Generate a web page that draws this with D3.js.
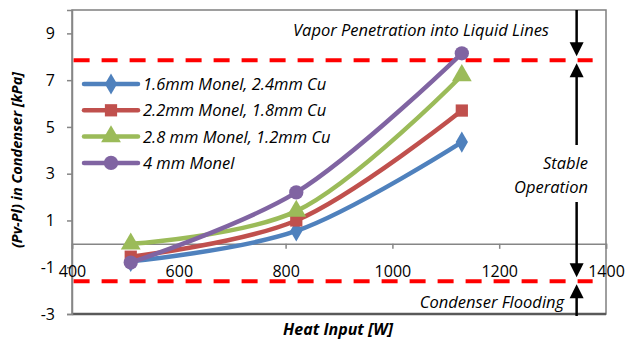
<!DOCTYPE html>
<html>
<head>
<meta charset="utf-8">
<script src="https://cdn.jsdelivr.net/npm/d3@7"></script>
<style>
  body { margin: 0; background: #fff; }
  text { font-family: "Open Sans", sans-serif; fill: #000; }
</style>
</head>
<body>
<svg id="chart" width="626" height="341"></svg>
<script>
// data
var heatInput = [510, 820, 1130];
var seriesNames = ["1.6mm Monel, 2.4mm Cu", "2.2mm Monel, 1.8mm Cu", "2.8 mm Monel, 1.2mm Cu", "4 mm Monel"];
var monel16 = [-0.75, 0.55, 4.35];
var monel22 = [-0.55, 1.0, 5.7];
var monel28 = [0.0, 1.4, 7.2];
var monel40 = [-0.8, 2.2, 8.15];
var xTicks = [400, 600, 800, 1000, 1200, 1400];
var yTicks = [-3, -1, 1, 3, 5, 7, 9];
// limit lines (kPa) and their horizontal extent
var vaporLimit = 7.85;
var floodLimit = -1.6;
var limitExtent = [403, 1375];
var arrowX = 1345;

var colors = ["#4F81BD", "#C0504D", "#9BBB59", "#8064A2"];
var symbols = [d3.symbolDiamond, d3.symbolSquare, d3.symbolTriangle, d3.symbolCircle];
var symbolSizes = [130, 150, 170, 160];
var allSeries = [monel16, monel22, monel28, monel40];

var svg = d3.select("#chart");

// plot box
var plotLeft = 72, plotRight = 606, plotTop = 10, plotBottom = 314;
var x = d3.scaleLinear().domain([400, 1400]).range([plotLeft, plotRight]);
var y = d3.scaleLinear().domain([-3, 10]).range([plotBottom, plotTop]);

// plain hyphen for negatives, like the original
function plainNumber(d){ return String(d); }

// frame around the plot area
svg.append("rect")
  .attr("x", plotLeft).attr("y", plotTop)
  .attr("width", plotRight - plotLeft).attr("height", plotBottom - plotTop)
  .style("fill", "none").style("stroke", "#7f7f7f").style("stroke-width", 1.5);
svg.append("line")
  .attr("x1", plotLeft).attr("x2", plotRight).attr("y1", plotBottom).attr("y2", plotBottom)
  .style("stroke", "#595959").style("stroke-width", 2.5);

// y axis
var yAxis = svg.append("g")
  .attr("transform", "translate(" + plotLeft + ",0)")
  .call(d3.axisLeft(y).tickValues(yTicks).tickSize(5).tickPadding(12).tickFormat(plainNumber));
yAxis.select(".domain").style("stroke", "#868686").style("stroke-width", 1.5);
yAxis.selectAll(".tick line").style("stroke", "#868686").style("stroke-width", 1.5);
yAxis.selectAll(".tick text").style("font-size", "16px").style("font-family", "'Open Sans', sans-serif").style("fill", "#000");

// x axis crosses at zero
var xAxis = svg.append("g")
  .attr("transform", "translate(0," + y(0) + ")")
  .call(d3.axisBottom(x).tickValues(xTicks).tickSize(5).tickPadding(17).tickFormat(plainNumber));
xAxis.select(".domain").style("stroke", "#868686").style("stroke-width", 1.5);
xAxis.selectAll(".tick line").style("stroke", "#868686").style("stroke-width", 1.5);
xAxis.selectAll(".tick text").style("font-size", "16px").style("font-family", "'Open Sans', sans-serif").style("fill", "#000");

// red dashed limit lines
[vaporLimit, floodLimit].forEach(function(v){
  svg.append("line")
    .attr("x1", x(limitExtent[0])).attr("x2", x(limitExtent[1]))
    .attr("y1", y(v)).attr("y2", y(v))
    .style("stroke", "#FF0000").style("stroke-width", 4)
    .style("stroke-dasharray", "16,12");
});

// smoothed series lines with markers
var line = d3.line()
  .x(function(d, i){ return x(heatInput[i]); })
  .y(function(d){ return y(d); })
  .curve(d3.curveCatmullRom);

allSeries.forEach(function(values, s){
  svg.append("path")
    .attr("d", line(values))
    .style("fill", "none").style("stroke", colors[s])
    .style("stroke-width", 4.5).style("stroke-linecap", "round");
  svg.selectAll("path.mk" + s)
    .data(values).enter().append("path")
    .attr("class", "mk" + s)
    .attr("d", d3.symbol().type(symbols[s]).size(symbolSizes[s]))
    .attr("transform", function(d, i){ return "translate(" + x(heatInput[i]) + "," + y(d) + ")"; })
    .style("fill", colors[s]);
});

// legend
var legend = svg.append("g").attr("class", "legend");
seriesNames.forEach(function(name, s){
  var ly = 84 + s * 26.3;
  legend.append("line")
    .attr("x1", 84).attr("x2", 138).attr("y1", ly).attr("y2", ly)
    .style("stroke", colors[s]).style("stroke-width", 4.5).style("stroke-linecap", "round");
  legend.append("path")
    .attr("d", d3.symbol().type(symbols[s]).size(symbolSizes[s]))
    .attr("transform", "translate(111," + ly + ")")
    .style("fill", colors[s]);
  legend.append("text")
    .attr("x", 143).attr("y", ly + 6)
    .style("font-size", "16.5px").style("font-style", "italic")
    .text(name);
});

// arrow helper: vertical line with a head pointing at tipY
function arrowHead(xp, tipY, dir){
  // dir = 1 points down, -1 points up
  svg.append("path")
    .attr("d", "M" + (xp - 7) + "," + (tipY - dir * 14) + "L" + (xp + 7) + "," + (tipY - dir * 14) + "L" + xp + "," + tipY + "Z")
    .style("fill", "#000");
}
var ax = x(arrowX);
function vline(y1, y2){
  svg.append("line")
    .attr("x1", ax).attr("x2", ax).attr("y1", y1).attr("y2", y2)
    .style("stroke", "#000").style("stroke-width", 2.5);
}
vline(plotTop, y(vaporLimit) - 10);
arrowHead(ax, y(vaporLimit) - 4, 1);
vline(y(vaporLimit) + 10, 145);
arrowHead(ax, y(vaporLimit) + 3, -1);
vline(202, y(floodLimit) - 10);
arrowHead(ax, y(floodLimit) - 4, 1);
vline(y(floodLimit) + 10, 316);
arrowHead(ax, y(floodLimit) + 3, -1);

// annotation texts
svg.append("text").attr("x", 421).attr("y", 36)
  .attr("text-anchor", "middle").style("font-size", "16.5px").style("font-style", "italic")
  .text("Vapor Penetration into Liquid Lines");
svg.append("text").attr("x", 588).attr("y", 169)
  .attr("text-anchor", "end").style("font-size", "16.5px").style("font-style", "italic")
  .text("Stable");
svg.append("text").attr("x", 588).attr("y", 193)
  .attr("text-anchor", "end").style("font-size", "16.5px").style("font-style", "italic")
  .text("Operation");
svg.append("text").attr("x", 492).attr("y", 308)
  .attr("text-anchor", "middle").style("font-size", "16.5px").style("font-style", "italic")
  .text("Condenser Flooding");

// axis titles
svg.append("text").attr("x", 338).attr("y", 335)
  .attr("text-anchor", "middle").style("font-size", "16px")
  .style("font-weight", "bold").style("font-style", "italic")
  .text("Heat Input [W]");
svg.append("text")
  .attr("transform", "translate(22,160) rotate(-90)")
  .attr("text-anchor", "middle").style("font-size", "14.5px")
  .style("font-weight", "bold").style("font-style", "italic")
  .text("(Pv-Pl) in Condenser [kPa]");
</script>
</body>
</html>
